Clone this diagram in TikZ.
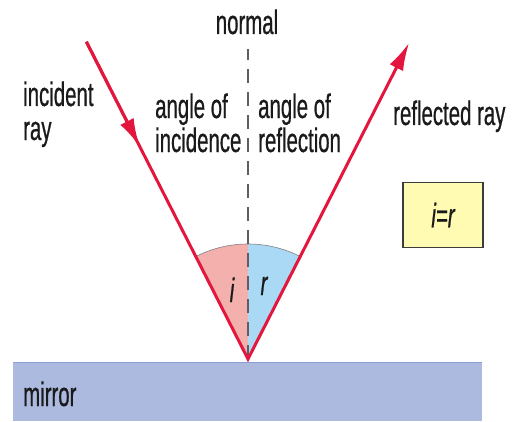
\documentclass[tikz,border=0pt]{standalone}
\usepackage{fontspec}
\setmainfont{Liberation Sans}[FakeStretch = 0.6, FakeBold = 0.6]
\usetikzlibrary{calc, arrows.meta}
\definecolor{RayCol}{HTML}{E3173E}
\definecolor{IncCol}{HTML}{F3B0AD}
\definecolor{RefCol}{HTML}{A9D9F5}
\definecolor{MirrorCol}{HTML}{ADBADF}
\definecolor{MirrorColAccent}{HTML}{8C9ED4}
\definecolor{BoxCol}{HTML}{FFFBB3}
\definecolor{TextCol}{HTML}{1A1A1A}

\begin{document}
\begin{tikzpicture}[x = 1pt, y = 1pt, font = \fontsize{34}{34}\selectfont,
		lbl/.style = {inner sep = 0pt, text = TextCol, align = left},
		ray/.style = {RayCol, line width = 3pt, line join = miter},
		tip/.style = {-{Latex[length = 28pt, width = 15pt]}}]
	\useasboundingbox (0, 0) rectangle (529, 421);
	\def\ang{27}
	\def\rad{115}
	\coordinate (hit) at (248, 62);
	\coordinate (src) at ($(hit) + (90 + \ang : 356)$);
	\coordinate (dst) at ($(hit) + (90 - \ang : 355)$);
	\coordinate (top) at (248, 372);
	\fill[MirrorCol] (13, 0) rectangle (482, 59);
	\draw[MirrorColAccent, line width = 1pt] (13, 59) -- (482, 59);
	\fill[IncCol] (hit) -- ++ (90 : \rad) arc[start angle = 90, end angle = 90 + \ang, radius = \rad] -- cycle;
	\fill[RefCol] (hit) -- ++ (90 - \ang : \rad) arc[start angle = 90 - \ang, end angle = 90, radius = \rad] -- cycle;
	\draw[gray, line width = 0.6pt] ($(hit) + (90 - \ang : \rad)$) arc[start angle = 90 - \ang, end angle = 90 + \ang, radius = \rad];
	\draw[TextCol!70, line width = 1.5pt, dash pattern = on 14pt off 9pt] (hit) -- (top);
	\draw[ray, tip] (src) -- (hit) -- (dst);
	\draw[ray, tip] (src) -- ($(src)!0.33!(hit)$);
	\node[lbl, anchor = base] (normal) at (247, 387) {normal};
	\node[lbl, anchor = base west] (incident) at (23, 281) {incident\\ray};
	\node[lbl, anchor = base west] (anginc) at (155, 269) {angle of\\incidence};
	\node[lbl, anchor = base west] (angref) at (258, 269) {angle of\\reflection};
	\node[lbl, anchor = base west] (reflected) at (393, 296) {reflected ray};
	\node[lbl, anchor = base west] (mirror) at (23, 15) {mirror};
	\node[lbl, anchor = base, font = \fontsize{34}{34}\selectfont\itshape] (i) at (232, 119) {i};
	\node[lbl, anchor = base, font = \fontsize{34}{34}\selectfont\itshape] (r) at (264, 126) {r};
	\node[draw = TextCol!85, fill = BoxCol, line width = 1.2pt, minimum width = 80pt, minimum height = 65pt, text = TextCol, font = \fontsize{34}{34}\selectfont\itshape] (eq) at (443, 206) {i=r};
\end{tikzpicture}
\end{document}
